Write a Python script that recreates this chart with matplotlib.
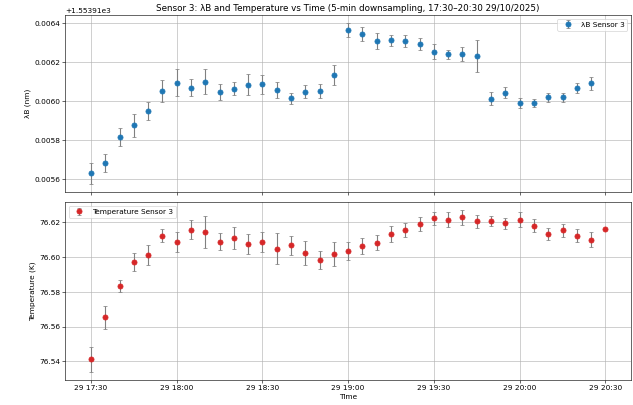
import matplotlib
matplotlib.use("Agg")
import matplotlib.pyplot as plt
import matplotlib.dates as mdates
import pandas as pd

times = pd.date_range("2025-10-29 17:30", "2025-10-29 20:30", freq="5min")

lam = [1553.915629, 1553.915684, 1553.915816, 1553.915876, 1553.915949, 1553.916051,
       1553.916093, 1553.916069, 1553.916100, 1553.916045, 1553.916064, 1553.916083,
       1553.916085, 1553.916056, 1553.916015, 1553.916047, 1553.916052, 1553.916133,
       1553.916364, 1553.916343, 1553.916308, 1553.916311, 1553.916309, 1553.916292,
       1553.916253, 1553.916239, 1553.916242, 1553.916232, 1553.916013, 1553.916043,
       1553.915990, 1553.915990, 1553.916020, 1553.916020, 1553.916066, 1553.916090]
lam_err = [0.000056, 0.000047, 0.000047, 0.000058, 0.000046, 0.000056,
           0.000069, 0.000044, 0.000064, 0.000042, 0.000033, 0.000054,
           0.000047, 0.000042, 0.000028, 0.000033, 0.000034, 0.000050,
           0.000036, 0.000037, 0.000041, 0.000029, 0.000031, 0.000032,
           0.000039, 0.000024, 0.000036, 0.000082, 0.000031, 0.000028,
           0.000026, 0.000023, 0.000023, 0.000023, 0.000024, 0.000035]

temp = [76.5412, 76.5653, 76.5834, 76.5970, 76.6012, 76.6125,
        76.6087, 76.6158, 76.6146, 76.6089, 76.6110, 76.6077,
        76.6089, 76.6049, 76.6068, 76.6027, 76.5985, 76.6018,
        76.6035, 76.6066, 76.6083, 76.6135, 76.6158, 76.6191,
        76.6223, 76.6217, 76.6229, 76.6206, 76.6208, 76.6196,
        76.6217, 76.6181, 76.6133, 76.6156, 76.6125, 76.6102,
        76.6162]
temp_err = [0.0072, 0.0065, 0.0037, 0.0052, 0.0057, 0.0036,
            0.0057, 0.0055, 0.0091, 0.0048, 0.0062, 0.0058,
            0.0057, 0.0090, 0.0053, 0.0069, 0.0051, 0.0070,
            0.0052, 0.0046, 0.0044, 0.0045, 0.0039, 0.0039,
            0.0035, 0.0043, 0.0041, 0.0035, 0.0030, 0.0032,
            0.0043, 0.0037, 0.0035, 0.0037, 0.0035, 0.0044,
            0.0]

# drawn at 12x7.68 in, saved at low dpi so it comes out ~633x405
fig, (ax1, ax2) = plt.subplots(2, 1, figsize=(12, 7.68), dpi=52.75, sharex=True)

ax1.errorbar(times[:len(lam)], lam, yerr=lam_err, fmt='o', color='#1f77b4',
             ecolor='gray', capsize=3, markersize=7, label='λB Sensor 3')
ax1.set_ylabel('λB (nm)')
ax1.set_title('Sensor 3: λB and Temperature vs Time (5-min downsampling, 17:30–20:30 29/10/2025)')
ax1.grid(True)
ax1.legend(loc='upper right')

ax2.errorbar(times, temp, yerr=temp_err, fmt='o', color='#d62728',
             ecolor='gray', capsize=3, markersize=7, label='Temperature Sensor 3')
ax2.set_ylabel('Temperature (K)')
ax2.set_xlabel('Time')
ax2.grid(True)
ax2.legend(loc='upper left')

ax2.xaxis.set_major_locator(mdates.MinuteLocator(byminute=[0, 30]))
ax2.xaxis.set_major_formatter(mdates.DateFormatter('%d %H:%M'))

fig.subplots_adjust(left=0.103, right=0.997, top=0.963, bottom=0.062, hspace=0.055)
fig.savefig('out.png', dpi=52.75)
